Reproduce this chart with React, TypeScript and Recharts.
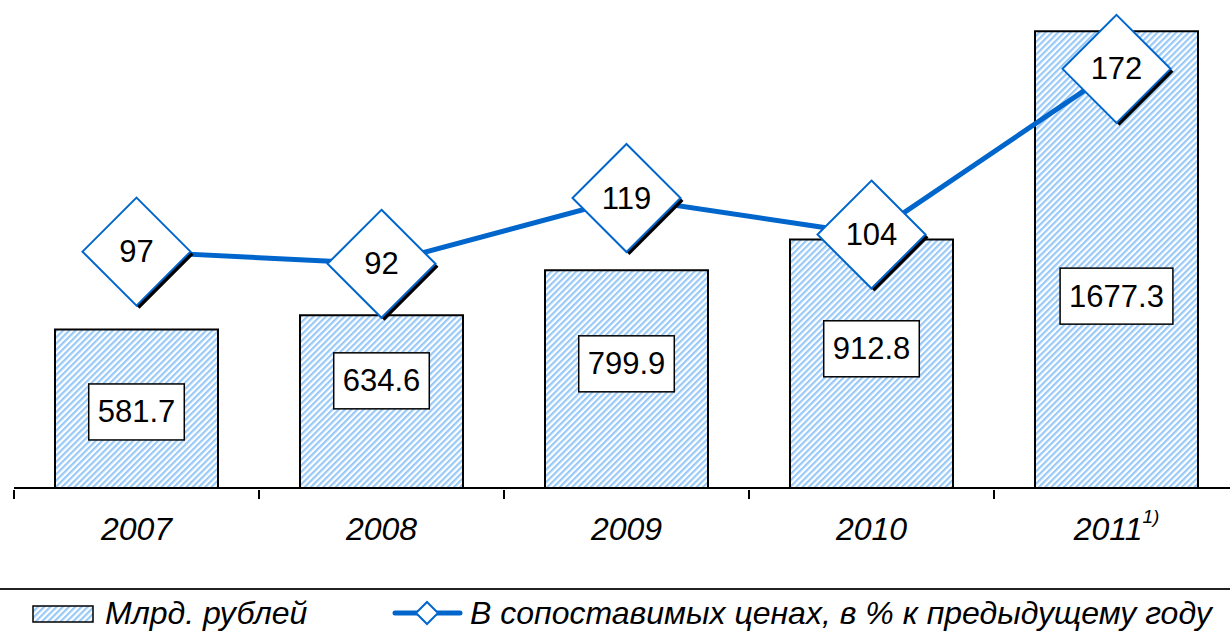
import React from 'react';
import { ComposedChart, Bar, Line, XAxis, YAxis, LabelList, Legend } from 'recharts';

// years on the axis, footnote marks for some of them
const years = ['2007', '2008', '2009', '2010', '2011'];
const yearNotes = ['', '', '', '', '1)'];
// bars: billions of roubles
const billions = [581.7, 634.6, 799.9, 912.8, 1677.3];
// line: % of previous year in comparable prices
const pctPrevYear = [97, 92, 119, 104, 172];

const barName = 'Млрд. рублей';
const lineName = 'В сопоставимых ценах, в % к предыдущему году';

// where each bar's value box sits, as a share of bar height from the bottom
const labelLift = [0.48, 0.62, 0.57, 0.56, 0.42];

const data = years.map((y, i) => ({
  year: y,
  note: yearNotes[i],
  billions: billions[i],
  pct: pctPrevYear[i],
}));

const FONT = '"Liberation Sans", Arial, sans-serif';
const BLUE = '#0066cc';
const CHART_W = 1250;
const CHART_H = 635;
const MARGIN = { top: 25, right: 11, left: 14, bottom: 0 };
const HALF_BAND = (CHART_W - MARGIN.left - MARGIN.right) / years.length / 2;
const LABEL_FS = 31;

const textWidth = (s: string, fs: number) =>
  s.split('').reduce((w, c) => w + (c === '.' ? 0.278 : 0.556) * fs, 0);

const BarValue = (props: any) => {
  const { x, y, width, height, value, index } = props;
  const s = value.toFixed(1);
  const w = textWidth(s, LABEL_FS) + 18;
  const h = 56;
  const cx = x + width / 2;
  const cy = y + height - height * labelLift[index];
  return (
    <g>
      <rect x={cx - w / 2} y={cy - h / 2} width={w} height={h} fill="#fff" stroke="#000" strokeWidth={1.5} />
      <text x={cx} y={cy} textAnchor="middle" dominantBaseline="central" fontFamily={FONT} fontSize={LABEL_FS} fill="#000">
        {s}
      </text>
    </g>
  );
};

const Diamond = (props: any) => {
  const { cx, cy, value } = props;
  const r = 54;
  const pts = (dx: number, dy: number) =>
    `${cx + dx},${cy - r + dy} ${cx + r + dx},${cy + dy} ${cx + dx},${cy + r + dy} ${cx - r + dx},${cy + dy}`;
  return (
    <g>
      <polygon points={pts(3, 3)} fill="#000" />
      <polygon points={pts(0, 0)} fill="#fff" stroke={BLUE} strokeWidth={2} />
      <text x={cx} y={cy} textAnchor="middle" dominantBaseline="central" fontFamily={FONT} fontSize={LABEL_FS} fill="#000">
        {value}
      </text>
    </g>
  );
};

const YearTick = (props: any) => {
  const { x, y, payload, index } = props;
  const note = yearNotes[index];
  return (
    <g>
      <line x1={x - HALF_BAND} x2={x - HALF_BAND} y1={y} y2={y + 9} stroke="#000" strokeWidth={2} />
      <text x={x} y={y + 50} textAnchor="middle" fontFamily={FONT} fontSize={32} fontStyle="italic" fill="#000">
        {payload.value}
        {note ? (
          <tspan fontSize={19} dy={-17}>{note}</tspan>
        ) : null}
      </text>
    </g>
  );
};

const LegendBox = () => (
  <div style={{ position: 'relative', width: 1230, height: 47, borderTop: '2px solid #222', boxSizing: 'border-box', fontFamily: FONT, fontStyle: 'italic', fontSize: 32, color: '#000' }}>
    <svg style={{ position: 'absolute', left: 32, top: 15 }} width={62} height={18}>
      <rect x={1} y={1} width={60} height={16} fill="url(#hatch)" stroke="#000" strokeWidth={1.5} />
    </svg>
    <span style={{ position: 'absolute', left: 105, top: 5, lineHeight: '36px', whiteSpace: 'nowrap' }}>{barName}</span>
    <svg style={{ position: 'absolute', left: 390, top: 8 }} width={76} height={30}>
      <line x1={5} x2={70} y1={15} y2={15} stroke={BLUE} strokeWidth={5} strokeLinecap="round" />
      <polygon points="37,4 48,15 37,26 26,15" fill="#fff" stroke={BLUE} strokeWidth={2} />
    </svg>
    <span style={{ position: 'absolute', left: 470, top: 5, lineHeight: '36px', whiteSpace: 'nowrap' }}>{lineName}</span>
  </div>
);

export default function App() {
  return (
    <div style={{ position: 'absolute', left: 0, top: 0, width: 1230, height: CHART_H, overflow: 'hidden', background: '#fff' }}>
      <svg width={0} height={0} style={{ position: 'absolute' }}>
        <defs>
          <pattern id="hatch" patternUnits="userSpaceOnUse" width={4.4} height={4.4} patternTransform="rotate(45)">
            <rect width={4.4} height={4.4} fill="#fff" />
            <rect width={2.2} height={4.4} fill="#99c9f7" />
          </pattern>
        </defs>
      </svg>
      <ComposedChart width={CHART_W} height={CHART_H} data={data} margin={MARGIN}>
        <XAxis
          dataKey="year"
          xAxisId={0}
          height={100}
          tickSize={0}
          tickLine={false}
          axisLine={{ stroke: '#000', strokeWidth: 2 }}
          tick={<YearTick />}
          interval={0}
        />
        <YAxis yAxisId="left" domain={[0, 1700]} hide />
        <YAxis yAxisId="right" orientation="right" domain={[0, 190]} hide />
        <Bar
          yAxisId="left"
          dataKey="billions"
          name={barName}
          barSize={163}
          fill="url(#hatch)"
          stroke="#000"
          strokeWidth={2}
          isAnimationActive={false}
        >
          <LabelList dataKey="billions" content={<BarValue />} />
        </Bar>
        <Line
          yAxisId="right"
          dataKey="pct"
          name={lineName}
          stroke={BLUE}
          strokeWidth={5}
          dot={<Diamond />}
          activeDot={false}
          isAnimationActive={false}
        />
        <Legend verticalAlign="bottom" height={47} wrapperStyle={{ left: 0, width: 1230 }} content={<LegendBox />} />
      </ComposedChart>
    </div>
  );
}
